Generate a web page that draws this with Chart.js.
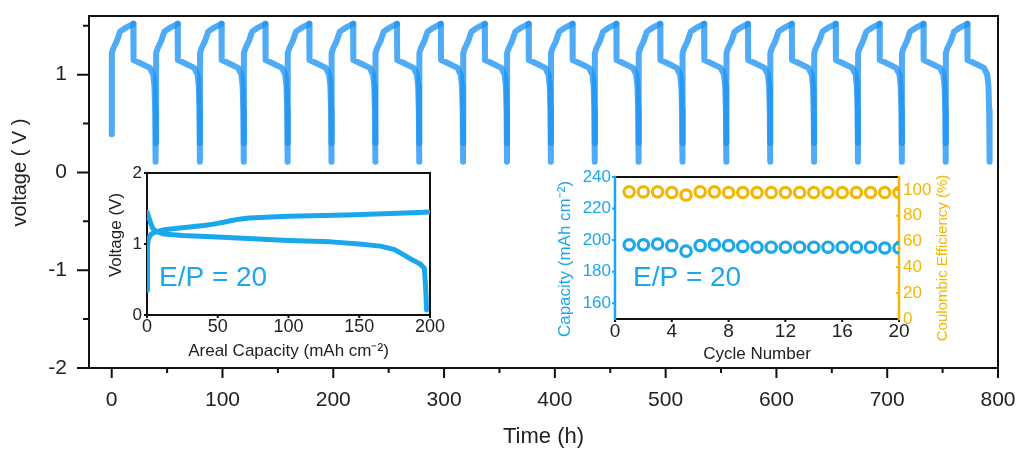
<!DOCTYPE html>
<html>
<head>
<meta charset="utf-8">
<script src="https://cdn.jsdelivr.net/npm/chart.js@4.4.1/dist/chart.umd.min.js"></script>
<style>
  html, body { margin: 0; padding: 0; background: #fff; }
  #wrap { position: relative; width: 1019px; height: 450px; overflow: hidden; }
  canvas { position: absolute; }
</style>
</head>
<body>
<div id="wrap">
  <canvas id="main" width="1019" height="450" style="left:0;top:0"></canvas>
  <canvas id="inset1" width="345" height="200" style="left:100px;top:165px"></canvas>
  <canvas id="inset2" width="420" height="197" style="left:540px;top:168px"></canvas>
</div>
<script>
// ---- main panel: voltage vs time, 20 cycles
var cycleStart = [0, 40.0, 79.6, 119.2, 158.8, 198.4, 238.0, 277.6, 317.2, 356.8,
                  396.4, 436.0, 475.6, 515.2, 554.8, 594.4, 634.0, 673.6, 713.2, 752.8];
// one cycle, hours from cycle start
var chargeT = [0, 0.1, 1.5, 4.5, 6, 7.5, 12, 19.5];
var chargeV = [0.30, 1.22, 1.27, 1.34, 1.39, 1.44, 1.475, 1.52];
var dischargeT = [19.5, 19.7, 25.5, 34.5, 37.5, 38.6, 39.2, 39.6];
var dischargeV = [1.52, 1.15, 1.12, 1.07, 1.00, 0.88, 0.64, 0.11];
var firstChargeV0 = 0.39;
var timeTicks = [0, 100, 200, 300, 400, 500, 600, 700, 800];
var timeMinor = [50, 150, 250, 350, 450, 550, 650, 750];
var voltTicks = [-2, -1, 0, 1];
var voltMinor = [-1.5, -0.5, 0.5, 1.5];

// ---- inset 1: voltage profile of one cycle
var capCharge = [0, 0.3, 1, 3, 6, 12, 25, 40, 47, 55, 60, 65, 72, 100, 141, 188, 200];
var vCharge = [0.35, 0.95, 1.08, 1.14, 1.17, 1.20, 1.23, 1.26, 1.28, 1.31, 1.33, 1.35, 1.365, 1.39, 1.41, 1.44, 1.45];
var capDis = [0, 2, 4, 7, 12, 25, 50, 100, 130, 150, 165, 175, 183, 188, 193, 196, 197, 197.6];
var vDis = [1.45, 1.33, 1.22, 1.17, 1.14, 1.12, 1.10, 1.05, 1.03, 1.00, 0.97, 0.92, 0.83, 0.77, 0.72, 0.66, 0.35, 0.07];
var capTicks = [0, 50, 100, 150, 200];
var v2Ticks = [0, 1, 2];

// ---- inset 2: capacity / coulombic efficiency per cycle
var cycles = [1, 2, 3, 4, 5, 6, 7, 8, 9, 10, 11, 12, 13, 14, 15, 16, 17, 18, 19, 20];
var capacity = [197, 197, 197.5, 196.5, 193, 196.5, 197, 196.5, 196, 195.5,
                195.5, 195.5, 195.5, 195.5, 195.5, 195.5, 195.5, 195.5, 195, 195];
var coulombic = [98.5, 98.5, 98.5, 98, 96, 98.5, 98.5, 98, 98, 98,
                 98, 98, 98, 98, 98, 98, 98, 98, 98, 98];
var cycleTicks = [0, 4, 8, 12, 16, 20];
var capacityTicks = [160, 180, 200, 220, 240];
var ceTicks = [0, 20, 40, 60, 80, 100];

var FONT = "'Liberation Sans', Arial, sans-serif";
var BLUE = '#1aa7ec';
var YELLOW = '#f2b705';
Chart.defaults.font.family = FONT;
Chart.defaults.color = '#222';

function setTicks(values) {
  return function (s) { s.ticks = values.map(function (v) { return {value: v}; }); };
}
function fix(size) {
  return function (s) {
    if (s.isHorizontal()) s.height = size; else s.width = size;
    s.paddingLeft = s.paddingRight = s.paddingTop = s.paddingBottom = 0;
  };
}
function xy(xs, ys) {
  return xs.map(function (x, i) { return {x: x, y: ys[i]}; });
}

// frame, tick marks and free texts
var decor = {
  id: 'decor',
  beforeDatasetsDraw: function (chart, args, o) {
    var ctx = chart.ctx, a = chart.chartArea;
    ctx.save();
    (o.ticks || []).forEach(function (t) {
      var s = chart.scales[t.scale];
      var d = t.inward ? -t.len : t.len;
      ctx.strokeStyle = t.color || '#111';
      ctx.lineWidth = t.width || 2;
      ctx.beginPath();
      t.values.forEach(function (v) {
        var p = s.getPixelForValue(v);
        if (s.position === 'bottom') { ctx.moveTo(p, a.bottom); ctx.lineTo(p, a.bottom + d); }
        else if (s.position === 'left') { ctx.moveTo(a.left, p); ctx.lineTo(a.left - d, p); }
        else { ctx.moveTo(a.right, p); ctx.lineTo(a.right + d, p); }
      });
      ctx.stroke();
    });
    var f = o.frame;
    if (f) {
      ctx.lineCap = 'square';
      var sides = [
        [f.top, a.left, a.top, a.right, a.top],
        [f.bottom, a.left, a.bottom, a.right, a.bottom],
        [f.left, a.left, a.top, a.left, a.bottom],
        [f.right, a.right, a.top, a.right, a.bottom]
      ];
      sides.forEach(function (sd) {
        ctx.strokeStyle = sd[0];
        ctx.lineWidth = sd[0] === '#111' ? f.width : (f.colorWidth || f.width);
        ctx.beginPath(); ctx.moveTo(sd[1], sd[2]); ctx.lineTo(sd[3], sd[4]); ctx.stroke();
      });
    }
    ctx.restore();
  },
  afterDraw: function (chart, args, o) {
    var ctx = chart.ctx;
    (o.texts || []).forEach(function (t) {
      ctx.save();
      ctx.translate(t.x, t.y);
      if (t.rot) ctx.rotate(t.rot * Math.PI / 180);
      ctx.font = t.font;
      ctx.fillStyle = t.color || '#222';
      ctx.textAlign = t.align || 'center';
      ctx.textBaseline = t.baseline || 'middle';
      ctx.fillText(t.text, 0, 0);
      ctx.restore();
    });
  }
};

// build main series from the cycle profile
var chargePts = [], disPts = [];
cycleStart.forEach(function (t0, i) {
  chargeT.forEach(function (dt, j) {
    chargePts.push({x: t0 + dt, y: (i === 0 && j === 0) ? firstChargeV0 : chargeV[j]});
  });
  chargePts.push({x: t0 + 20, y: null});
  dischargeT.forEach(function (dt, j) {
    disPts.push({x: t0 + dt, y: dischargeV[j]});
  });
  disPts.push({x: t0 + 39.8, y: null});
});

var lineStyle = {
  borderColor: 'rgba(30,148,242,0.78)', borderWidth: 6, pointRadius: 0,
  tension: 0, borderCapStyle: 'round', borderJoinStyle: 'round', spanGaps: false
};

new Chart(document.getElementById('main'), {
  type: 'line',
  data: {
    datasets: [
      Object.assign({label: 'charge', data: chargePts}, lineStyle),
      Object.assign({label: 'discharge', data: disPts}, lineStyle)
    ]
  },
  options: {
    responsive: false, animation: false, events: [],
    layout: {padding: {top: 16, right: 21, left: 0, bottom: 0}},
    plugins: {
      legend: {display: false}, tooltip: {enabled: false},
      decor: {
        frame: {top: '#111', right: '#111', bottom: '#111', left: '#111', width: 2},
        ticks: [
          {scale: 'x', values: timeTicks, len: 10},
          {scale: 'x', values: timeMinor, len: 5},
          {scale: 'y', values: voltTicks, len: 12},
          {scale: 'y', values: voltMinor, len: 6}
        ],
        texts: [{text: 'voltage ( V )', x: 20, y: 172.5, rot: -90, font: '20px ' + FONT}]
      }
    },
    scales: {
      x: {
        type: 'linear', min: -20.5, max: 800,
        afterBuildTicks: setTicks(timeTicks), afterFit: fix(82),
        grid: {display: false, drawTicks: false}, border: {display: false},
        ticks: {padding: 20, font: {size: 21}, maxRotation: 0, autoSkip: false},
        title: {display: true, text: 'Time (h)', font: {size: 22}, padding: {top: 0, bottom: 0}}
      },
      y: {
        min: -2, max: 1.6,
        afterBuildTicks: setTicks(voltTicks), afterFit: fix(89),
        grid: {display: false, drawTicks: false}, border: {display: false},
        ticks: {padding: 22, font: {size: 21}}
      }
    }
  },
  plugins: [decor]
});

var insetLine = {borderColor: BLUE, borderWidth: 5, pointRadius: 0, tension: 0,
                 borderCapStyle: 'round', borderJoinStyle: 'round'};

new Chart(document.getElementById('inset1'), {
  type: 'line',
  data: {
    datasets: [
      Object.assign({label: 'charge', data: xy(capCharge, vCharge)}, insetLine),
      Object.assign({label: 'discharge', data: xy(capDis, vDis)}, insetLine)
    ]
  },
  options: {
    responsive: false, animation: false, events: [],
    layout: {padding: {top: 8, right: 15, left: 0, bottom: 0}},
    plugins: {
      legend: {display: false}, tooltip: {enabled: false},
      decor: {
        frame: {top: '#111', right: '#111', bottom: '#111', left: '#111', width: 2},
        ticks: [
          {scale: 'x', values: capTicks, len: 3},
          {scale: 'y', values: v2Ticks, len: 3}
        ],
        texts: [
          {text: 'Voltage (V)', x: 16.7, y: 70, rot: -90, font: '17px ' + FONT},
          {text: 'E/P = 20', x: 59, y: 121, align: 'left', baseline: 'alphabetic',
           font: '28px ' + FONT, color: BLUE}
        ]
      }
    },
    scales: {
      x: {
        type: 'linear', min: 0, max: 200,
        afterBuildTicks: setTicks(capTicks), afterFit: fix(50),
        grid: {display: false, drawTicks: false}, border: {display: false},
        ticks: {padding: 1.5, font: {size: 18}, maxRotation: 0, autoSkip: false},
        title: {display: true, text: 'Areal Capacity (mAh cm\u207B\u00B2)', font: {size: 17},
                padding: {top: 0, bottom: 3}}
      },
      y: {
        min: 0, max: 2,
        afterBuildTicks: setTicks(v2Ticks), afterFit: fix(47),
        grid: {display: false, drawTicks: false}, border: {display: false},
        ticks: {padding: 5, font: {size: 17}}
      }
    }
  },
  plugins: [decor]
});

var ring = {pointRadius: 5.2, pointBorderWidth: 3.2, backgroundColor: 'rgba(0,0,0,0)', showLine: false};

new Chart(document.getElementById('inset2'), {
  type: 'scatter',
  data: {
    datasets: [
      Object.assign({label: 'Capacity', data: xy(cycles, capacity), yAxisID: 'y',
                     borderColor: BLUE, pointBorderColor: BLUE}, ring),
      Object.assign({label: 'Coulombic Efficiency', data: xy(cycles, coulombic), yAxisID: 'y2',
                     borderColor: YELLOW, pointBorderColor: YELLOW}, ring)
    ]
  },
  options: {
    responsive: false, animation: false, events: [],
    layout: {padding: {top: 9, right: 0, left: 0, bottom: 0}},
    plugins: {
      legend: {display: false}, tooltip: {enabled: false},
      decor: {
        frame: {top: '#111', right: YELLOW, bottom: '#111', left: BLUE, width: 2, colorWidth: 2.5},
        ticks: [
          {scale: 'x', values: cycleTicks, len: 3},
          {scale: 'y', values: capacityTicks, len: 3, color: BLUE},
          {scale: 'y2', values: ceTicks, len: 3, inward: true, color: YELLOW}
        ],
        texts: [
          {text: 'Capacity (mAh cm\u207B\u00B2)', x: 25, y: 91, rot: -90, font: '17px ' + FONT, color: BLUE},
          {text: 'Coulombic Efficiency (%)', x: 403, y: 90, rot: -90, font: '15px ' + FONT, color: YELLOW},
          {text: 'E/P = 20', x: 93, y: 118, align: 'left', baseline: 'alphabetic',
           font: '28px ' + FONT, color: BLUE}
        ]
      }
    },
    scales: {
      x: {
        type: 'linear', min: 0, max: 20,
        afterBuildTicks: setTicks(cycleTicks), afterFit: fix(46),
        grid: {display: false, drawTicks: false}, border: {display: false},
        ticks: {padding: 1, font: {size: 19}, maxRotation: 0, autoSkip: false},
        title: {display: true, text: 'Cycle Number', font: {size: 17}, padding: {top: 0, bottom: 0}}
      },
      y: {
        position: 'left', min: 150, max: 240,
        afterBuildTicks: setTicks(capacityTicks), afterFit: fix(75),
        grid: {display: false, drawTicks: false}, border: {display: false},
        ticks: {padding: 4, font: {size: 17}, color: BLUE}
      },
      y2: {
        position: 'right', min: 0, max: 110,
        afterBuildTicks: setTicks(ceTicks), afterFit: fix(61),
        grid: {display: false, drawTicks: false}, border: {display: false},
        ticks: {padding: 4, font: {size: 17}, color: YELLOW}
      }
    }
  },
  plugins: [decor]
});
</script>
</body>
</html>
